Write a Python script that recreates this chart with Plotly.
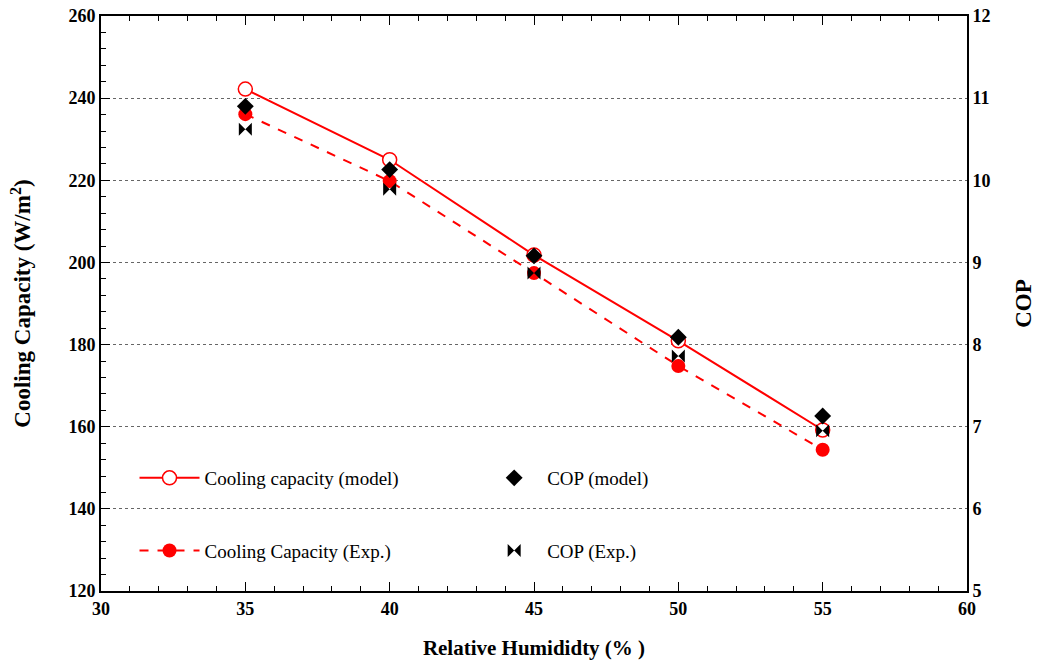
import plotly.graph_objects as go

rh = [35, 40, 45, 50, 55]
cap_model = [242.2, 225.0, 201.8, 180.9, 159.2]
cap_exp = [236.1, 219.8, 197.4, 174.8, 154.4]
cop_model = [10.90, 10.13, 9.08, 8.09, 7.13]
cop_exp = [10.62, 9.89, 8.87, 7.86, 6.95]

SERIF = "Liberation Serif, Times New Roman, serif"

fig = go.Figure()
fig.add_trace(go.Scatter(
    x=rh, y=cap_model, name="Cooling capacity (model)", mode="lines+markers",
    line=dict(color="#ff0000", width=2),
    marker=dict(symbol="circle", size=14, color="white", line=dict(color="#ff0000", width=1.5)),
    legend="legend", legendgroup="a"))
fig.add_trace(go.Scatter(
    x=rh, y=cap_exp, name="Cooling Capacity (Exp.)", mode="lines+markers",
    line=dict(color="#ff0000", width=2, dash="dash"),
    marker=dict(symbol="circle", size=14, color="#ff0000"),
    legend="legend", legendgroup="b"))
fig.add_trace(go.Scatter(
    x=rh, y=cop_model, name="COP (model)", mode="markers", yaxis="y2",
    marker=dict(symbol="diamond", size=13, color="black"),
    legend="legend2", legendgroup="c"))
fig.add_trace(go.Scatter(
    x=rh, y=cop_exp, name="COP (Exp.)", mode="markers", yaxis="y2",
    marker=dict(symbol="bowtie", size=13, color="black"),
    legend="legend2", legendgroup="d"))

tickfont = dict(family=SERIF, size=18, color="black", weight="bold")
fig.update_layout(
    width=1040, height=666,
    margin=dict(l=101, r=73, t=16, b=75),
    paper_bgcolor="white", plot_bgcolor="white",
    font=dict(family=SERIF, color="black"),
    xaxis=dict(range=[30, 60], dtick=5, tick0=30, ticks="inside", ticklen=9, tickwidth=1,
               tickcolor="black", minor=dict(dtick=1, ticks="inside", ticklen=5, tickcolor="black"),
               showline=True, linecolor="black", linewidth=2, mirror="ticks",
               showgrid=False, zeroline=False, tickfont=tickfont, automargin=False,
               title=dict(text="Relative Humididty (% )", font=dict(family=SERIF, size=21, weight="bold"), standoff=23)),
    yaxis=dict(range=[120, 260], dtick=20, ticks="inside", ticklen=9, tickcolor="black",
               minor=dict(dtick=4, ticks="inside", ticklen=5, tickcolor="black"),
               showline=True, linecolor="black", linewidth=2,
               showgrid=True, gridcolor="#666666", griddash="dot", gridwidth=1, zeroline=False,
               tickfont=tickfont, automargin=False,
               title=dict(text="Cooling Capacity (W/m<sup>2</sup>)", font=dict(family=SERIF, size=23, weight="bold"), standoff=31)),
    yaxis2=dict(range=[5, 12], dtick=1, overlaying="y", side="right", ticks="",
                showline=True, linecolor="black", linewidth=2, showgrid=False, zeroline=False,
                tickfont=tickfont, automargin=False,
                title=dict(text="COP", font=dict(family=SERIF, size=23, weight="bold"), standoff=25)),
    legend=dict(x=0.0387, y=0.2296, xanchor="left", yanchor="top", bgcolor="rgba(0,0,0,0)",
                font=dict(family=SERIF, size=19), tracegroupgap=45, traceorder="grouped",
                itemwidth=60),
    legend2=dict(x=0.439, y=0.2296, xanchor="left", yanchor="top", bgcolor="rgba(0,0,0,0)",
                 font=dict(family=SERIF, size=19), tracegroupgap=45, traceorder="grouped",
                 itemwidth=56),
)

fig.write_html("out.html", config={"displayModeBar": False},
               post_script="document.body.style.margin='0';document.body.style.overflow='hidden';")
